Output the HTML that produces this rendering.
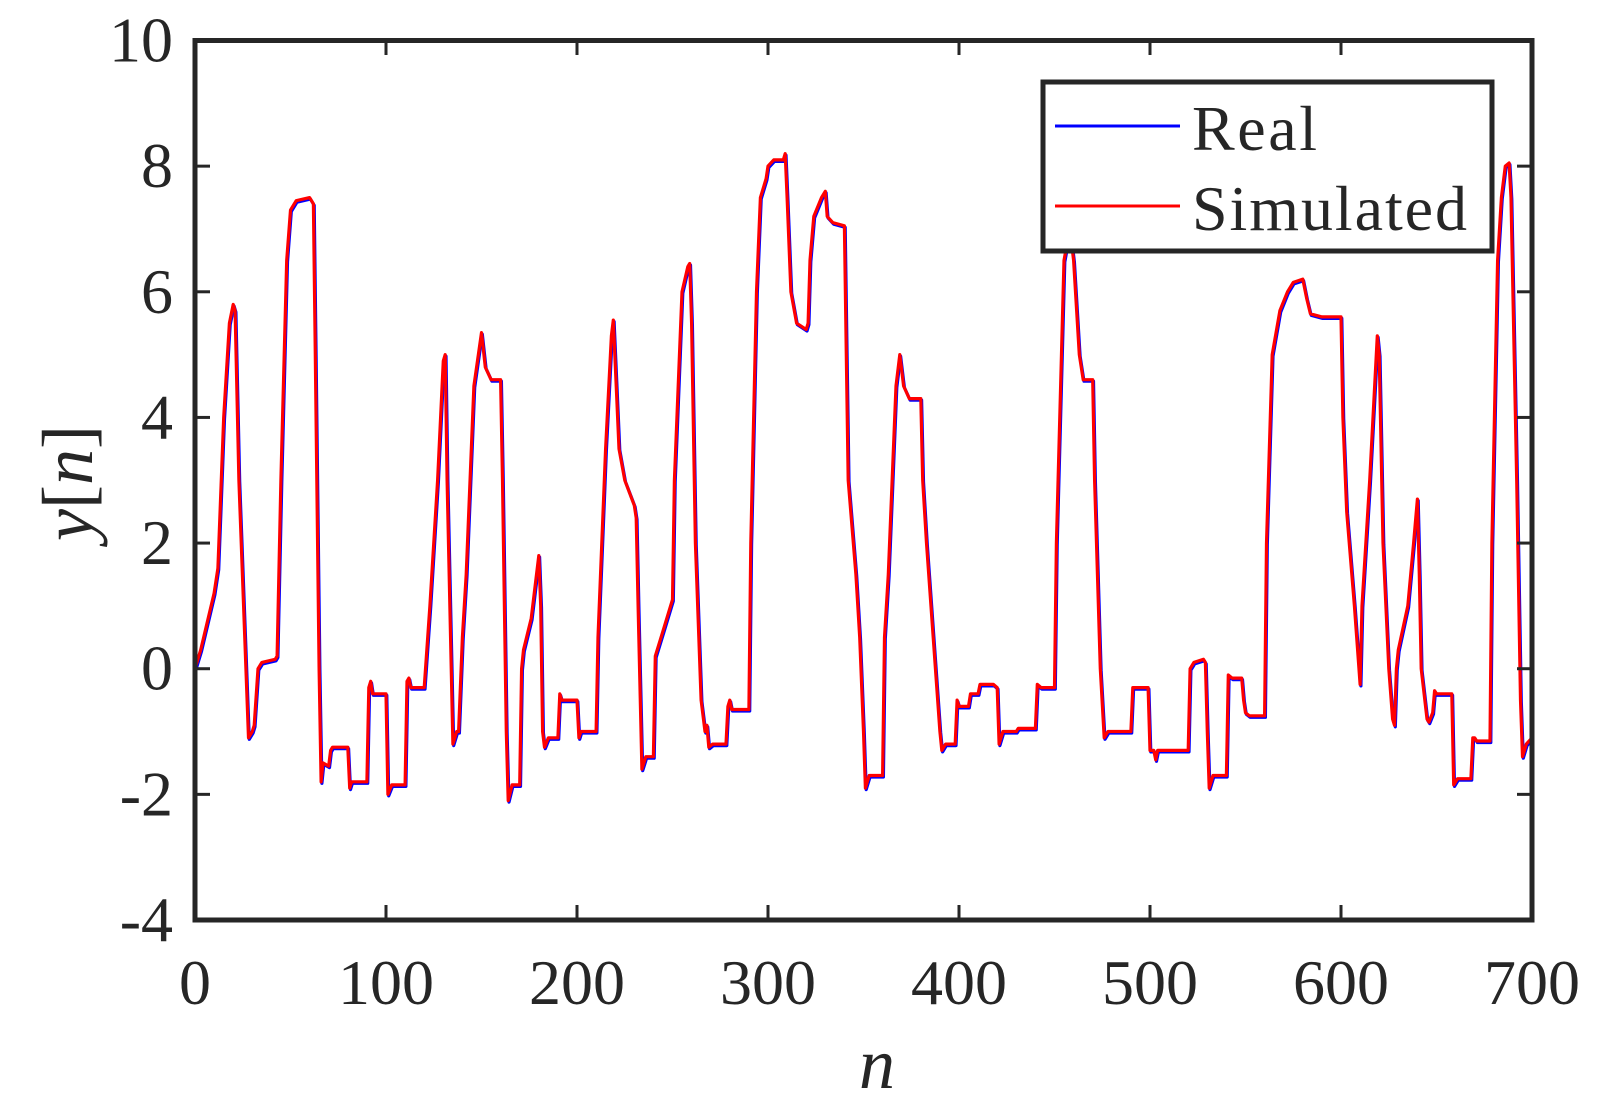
<!DOCTYPE html>
<html><head><meta charset="utf-8"><style>
body{margin:0;background:#fff}
svg{display:block}
text{font-family:"Liberation Serif",serif;fill:#262626}
</style></head><body>
<svg id="s" width="1605" height="1108" viewBox="0 0 1605 1108" xmlns="http://www.w3.org/2000/svg">
<rect width="1605" height="1108" fill="#fff"/>
<path id="blue" fill="none" stroke="#0000ff" stroke-width="3.2" stroke-linejoin="round"/>
<path id="red" fill="none" stroke="#ff0000" stroke-width="3.2" stroke-linejoin="round"/>
<rect x="195" y="40.5" width="1337" height="879.5" fill="none" stroke="#262626" stroke-width="5"/>
<g id="ticks" stroke="#262626" stroke-width="3"></g>
<g id="labels" font-size="64"></g>
<text x="877" y="1088" font-size="72" font-style="italic" text-anchor="middle">n</text>
<text transform="translate(92,483) rotate(-90)" font-size="72" text-anchor="middle"><tspan font-style="italic">y</tspan>[<tspan font-style="italic">n</tspan>]</text>
<rect x="1043" y="82" width="449" height="169" fill="#fff" stroke="#262626" stroke-width="5"/>
<line x1="1055" y1="126" x2="1180" y2="126" stroke="#0000ff" stroke-width="3"/>
<line x1="1055" y1="206" x2="1180" y2="206" stroke="#ff0000" stroke-width="3"/>
<text x="1192" y="150" font-size="64" fill="#000" textLength="125">Real</text>
<text x="1192" y="230" font-size="64" fill="#000" textLength="275">Simulated</text>
</svg>
<script>
var X=function(n){return 195+n*1337/700},Y=function(v){return 40.5+(10-v)*879.5/14};
var d=[0,0,3,0.3,10,1.2,12,1.6,15,4,18,5.5,20,5.8,21,5.7,23,3,28,-1.1,30,-1.0,31,-0.9,33,0,35,0.1,42,0.15,43,0.2,45,3,48,6.5,50,7.3,53,7.45,60,7.5,62,7.4,63,5,65,0,66,-1.8,67,-1.5,70,-1.55,71,-1.3,72,-1.25,80,-1.25,81,-1.9,82,-1.8,90,-1.8,91,-0.3,92,-0.2,93,-0.4,100,-0.4,101,-2.0,103,-1.85,110,-1.85,111,-0.2,112,-0.15,113,-0.3,120,-0.3,123,1,127,3,130,4.9,131,5.0,132,3,135,-1.2,137,-1.0,138,-1.0,140,0.5,142,1.5,146,4.5,150,5.35,152,4.8,155,4.6,160,4.6,161,3,163,-1,164,-2.1,166,-1.85,170,-1.85,171,0,172,0.3,176,0.8,180,1.8,181,1.0,182,-1.0,183,-1.25,185,-1.1,190,-1.1,191,-0.4,192,-0.5,200,-0.5,201,-1.1,202,-1.0,210,-1.0,211,0.5,215,3.5,218,5.3,219,5.55,222,3.5,225,3,230,2.6,231,2.4,232,1,234,-1.6,236,-1.4,240,-1.4,241,0.2,245,0.6,250,1.1,251,3,255,6,258,6.4,259,6.45,260,5.5,262,2,265,-0.5,267,-1,268,-0.9,269,-1.25,271,-1.2,278,-1.2,279,-0.6,280,-0.5,281,-0.65,290,-0.65,291,2,294,6,296,7.5,299,7.8,300,8.0,303,8.1,308,8.1,309,8.2,310,7.5,312,6,315,5.5,320,5.4,321,5.5,322,6.5,324,7.2,328,7.5,330,7.6,331,7.2,334,7.1,340,7.05,341,5,342,3,346,1.5,348,0.5,350,-1,351,-1.9,353,-1.7,360,-1.7,361,0.5,363,1.5,367,4.5,369,5.0,371,4.5,374,4.3,380,4.3,381,3,383,2,390,-1,391,-1.3,393,-1.2,398,-1.2,399,-0.5,400,-0.6,405,-0.6,406,-0.4,410,-0.4,411,-0.25,418,-0.25,420,-0.3,421,-1.2,423,-1.0,430,-1.0,431,-0.95,440,-0.95,441,-0.25,443,-0.3,450,-0.3,451,2,455,6.5,458,7.0,460,6.5,463,5,465,4.6,470,4.6,471,3,474,0,476,-1.1,478,-1.0,490,-1.0,491,-0.3,499,-0.3,500,-1.3,502,-1.3,503,-1.45,504,-1.3,520,-1.3,521,0,523,0.1,528,0.15,529,0.1,530,-1,531,-1.9,533,-1.7,540,-1.7,541,-0.1,543,-0.15,548,-0.15,549,-0.5,550,-0.7,552,-0.75,560,-0.75,561,2,564,5,568,5.7,572,6.0,575,6.15,580,6.2,582,5.9,584,5.65,590,5.6,600,5.6,601,4,603,2.5,607,1,610,-0.25,611,1,615,3,619,5.3,620,5.0,622,2,625,0,627,-0.8,628,-0.9,629,0,630,0.3,635,1,638,2,640,2.7,641,1.5,642,0,645,-0.8,646,-0.85,648,-0.7,649,-0.35,650,-0.4,658,-0.4,659,-1.85,661,-1.75,668,-1.75,669,-1.1,670,-1.1,671,-1.15,678,-1.15,679,2,682,6.5,684,7.5,686,8.0,688,8.05,689,7.5,692,3,694,-0.5,695,-1.4,697,-1.2,700,-1.1];
function path(dx,dy){var s="";for(var i=0;i<d.length;i+=2){s+=(i?"L":"M")+(X(d[i])+dx).toFixed(1)+","+(Y(d[i+1])+dy).toFixed(1);}return s;}
document.getElementById("blue").setAttribute("d",path(0.8,1.5));
document.getElementById("red").setAttribute("d",path(0,0));
var t="",l="";
for(var n=0;n<=700;n+=100){var x=X(n);if(n>0&&n<700){t+='<line x1="'+x+'" y1="920" x2="'+x+'" y2="905"/><line x1="'+x+'" y1="40.5" x2="'+x+'" y2="55"/>';}
l+='<text x="'+x+'" y="1004" text-anchor="middle">'+n+'</text>';}
for(var v=-4;v<=10;v+=2){var y=Y(v);if(v>-4&&v<10){t+='<line x1="195" y1="'+y+'" x2="210" y2="'+y+'"/><line x1="1532" y1="'+y+'" x2="1517" y2="'+y+'"/>';}
l+='<text x="173" y="'+(y+21)+'" text-anchor="end">'+v+'</text>';}
document.getElementById("ticks").innerHTML=t;
document.getElementById("labels").innerHTML=l;
</script>
</body></html>
